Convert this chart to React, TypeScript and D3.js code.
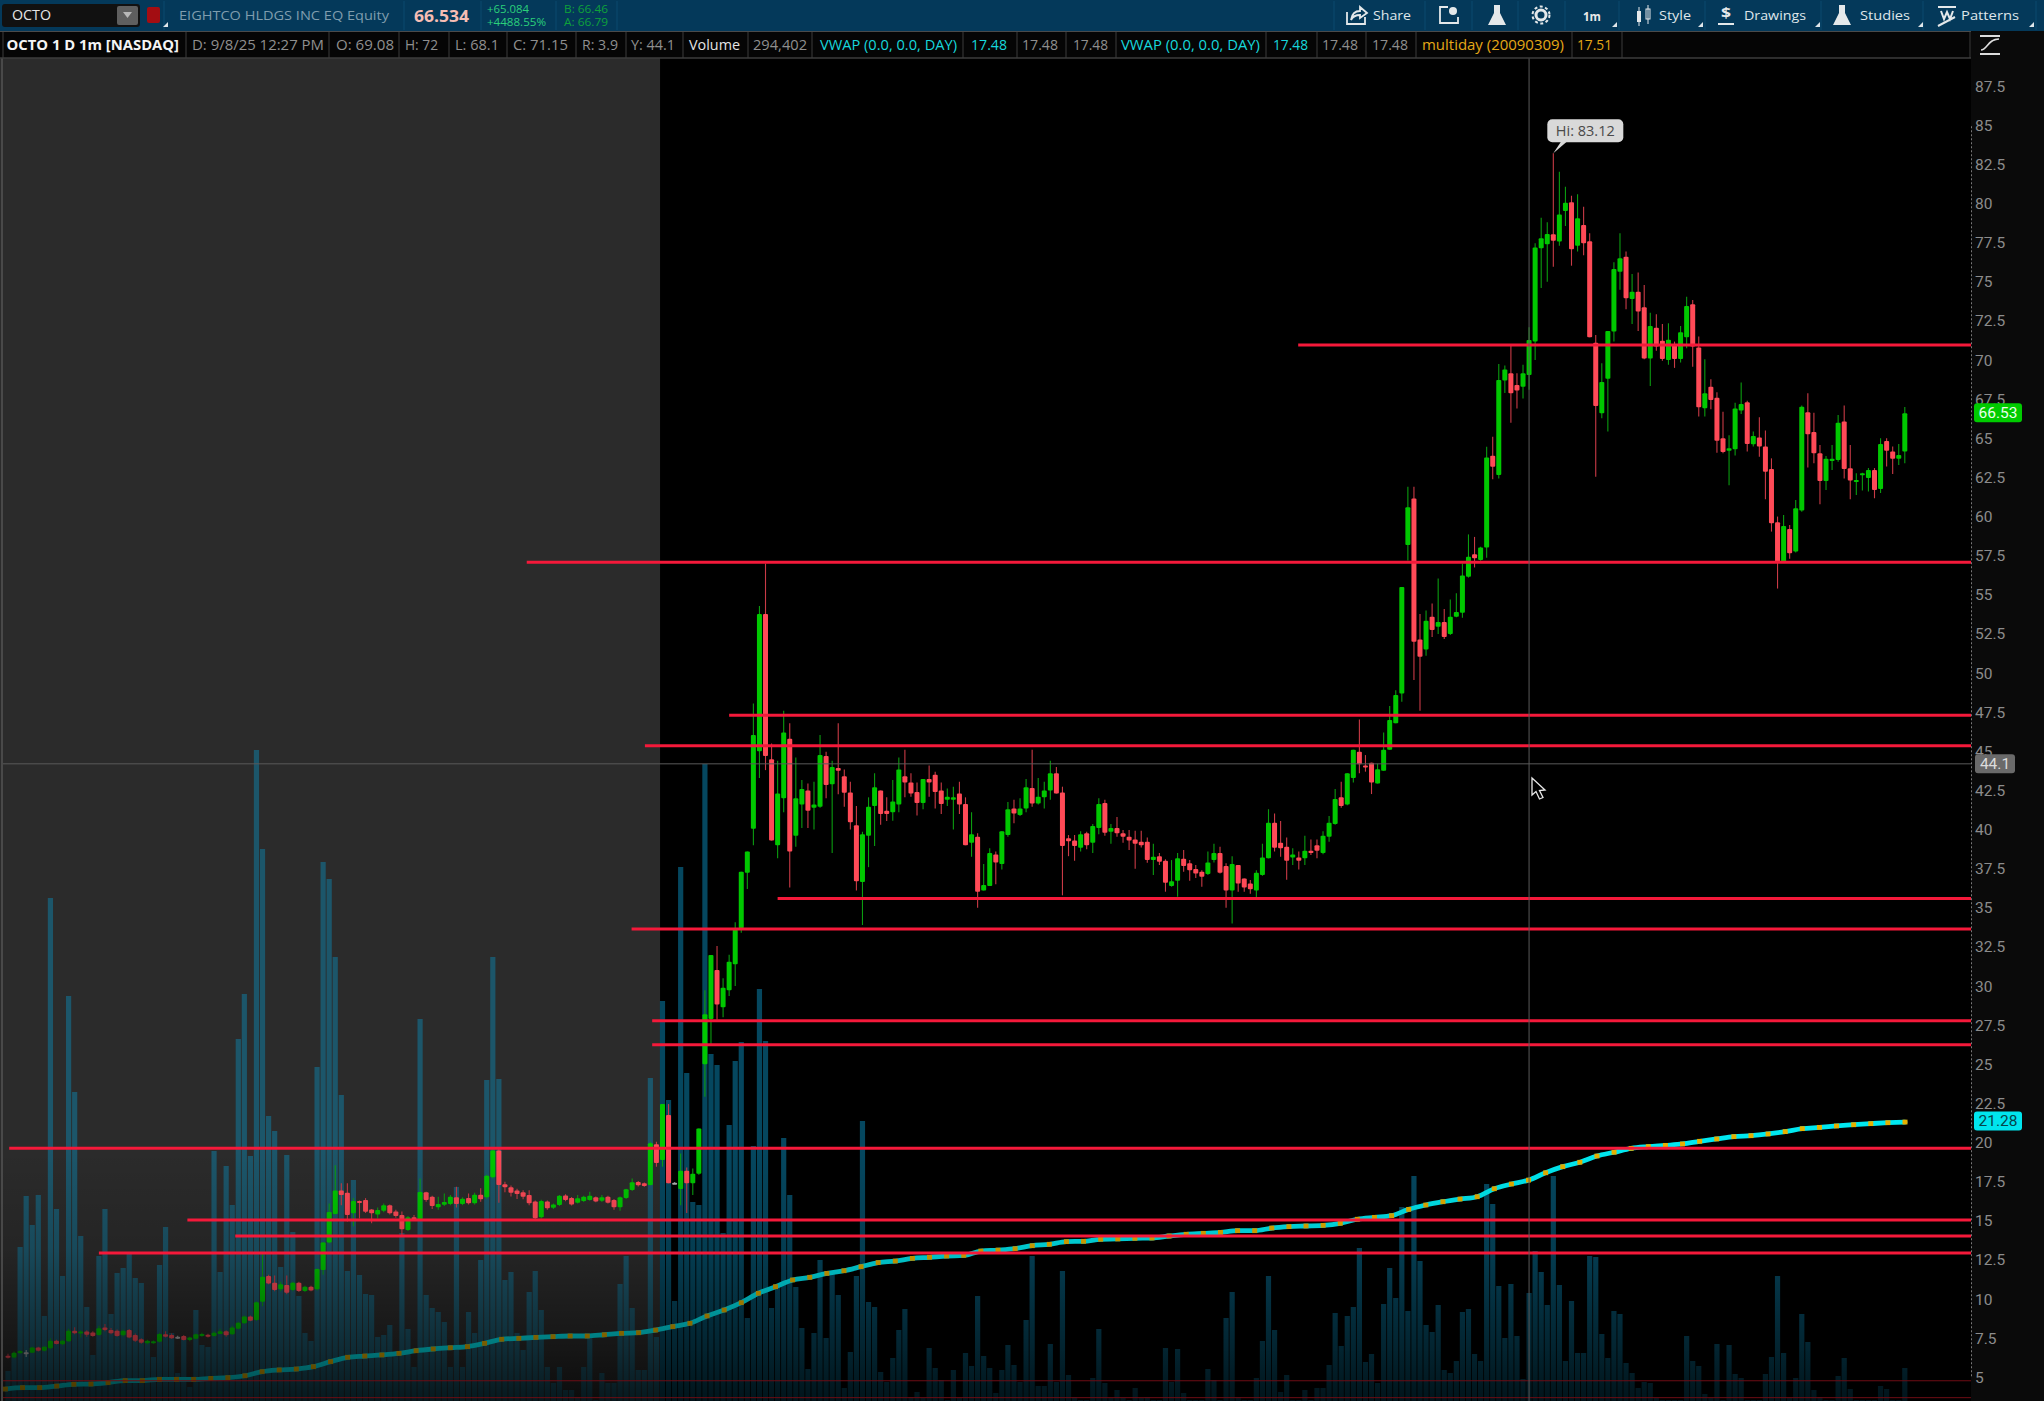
import React, { useRef, useEffect } from "react";
import * as d3 from "d3";

// [open, high, low, close] per 1m bar
const premarketBars = [
    [6.28,6.4,6.1,6.16],[6.16,6.55,6.1,6.47],[6.43,6.65,6.4,6.58],[6.5,6.65,6.2,6.5],[6.47,6.85,6.45,6.8],[6.8,6.85,6.55,6.6],[6.6,6.9,6.55,6.86],[6.75,7.4,6.7,7.24],[7.24,7.3,7,7.03],[7.01,7.3,6.95,7.24],
    [7.2,8,7.15,7.88],[7.88,8.1,7.65,7.71],[7.71,7.9,7.45,7.82],[7.82,7.9,7.5,7.62],[7.77,7.85,7.5,7.54],[7.6,8.2,7.55,8.03],[8.09,8.3,7.85,7.92],[7.92,8.05,7.65,7.71],[7.88,7.95,7.5,7.54],[7.58,7.95,7.5,7.88],
    [7.92,7.98,7.4,7.45],[7.6,7.7,7.15,7.24],[7.33,7.4,7.05,7.11],[7.07,7.3,7,7.24],[7.11,7.25,7.05,7.2],[7.18,7.75,7.12,7.67],[7.65,7.85,7.45,7.5],[7.6,7.7,7.35,7.39],[7.5,7.55,7.35,7.5],[7.54,7.6,7.25,7.28],
    [7.28,7.5,7.2,7.45],[7.37,7.7,7.33,7.65],[7.54,7.75,7.5,7.67],[7.62,7.68,7.45,7.5],[7.54,7.85,7.5,7.75],[7.67,8,7.65,7.84],[7.84,7.9,7.5,7.58],[7.65,8.2,7.6,8.09],[8,8.45,7.95,8.39],[8.35,8.85,8.3,8.78],
    [8.78,8.85,8.48,8.52],[8.56,9.75,8.5,9.69],[9.73,12.78,9.45,11.33],[11.37,11.45,10.85,10.9],[10.95,11.4,10.4,10.48],[10.52,11,10.4,10.84],[10.8,11.4,10.2,10.31],[10.48,11,10.4,10.95],[10.95,11,10.35,10.41],[10.41,10.75,10.35,10.69],
    [10.69,10.75,10.4,10.44],[10.52,11.85,10.45,11.82],[11.76,13.55,11.45,13.52],[13.52,16,13.45,15.46],[15.33,18.45,15.3,16.83],[16.83,17.3,15.9,16.55],[16.7,17.3,14.85,15.27],[15.38,16.35,14.55,16.17],[16.17,16.2,15.05,16.08],[16.23,16.35,15.4,15.48],
    [15.63,15.65,14.75,15.38],[15.31,15.75,15.05,15.59],[15.55,16,15.45,15.89],[15.89,15.95,15.3,15.38],[15.5,15.6,15.1,15.2],[15.27,15.5,14,14.36],[14.31,15.2,14.25,15.12],[15.12,15.27,14.9,15],[15,17.6,14.95,16.74],[16.72,16.75,16.12,16.23],
    [16.44,16.5,15.65,15.85],[15.76,16.44,15.6,15.97],[15.93,16.65,15.85,16.1],[15.97,16.55,15.9,16.44],[16.4,17.08,15.75,15.97],[15.97,16.4,15.9,16.31],[16.36,16.65,15.95,16.02],[16.02,16.7,15.95,16.57],[16.57,16.98,16.12,16.27],[16.4,17.85,16.3,17.78],
    [17.68,19.53,17.6,19.4],[19.4,19.53,16.06,17.19],[17.23,17.4,16.72,17.04],[17.04,17.15,16.45,16.7],[16.83,16.95,16.3,16.61],[16.72,16.85,16.27,16.44],[16.55,16.86,15.9,16.02],[16.14,16.2,15,15.06],[15.12,16.25,15.05,16.17],[16.14,16.2,15.6,15.7],
    [15.74,16,15.65,15.95],[15.91,16.55,15.85,16.5],[16.52,16.6,16.15,16.23],[16.36,16.42,15.88,15.95],[16.06,16.55,16,16.34],[16.17,16.5,16.1,16.44],[16.23,16.75,16.18,16.5],[16.4,16.46,16.08,16.14],[16.19,16.55,16.1,16.4],[16.44,16.5,16,16.06],
    [16.23,16.3,15.6,15.76],[15.76,16.45,15.55,16.4],[16.36,16.95,16.3,16.91],[16.87,17.6,16.8,17.36],[17.38,17.45,17.1,17.17],[17.3,17.35,17.08,17.12],[17.19,19.95,17.15,19.85],[19.8,19.95,18.35,18.6],
];

const openingBars = [
    [18.79,22.36,18.36,22.36],[21.66,22.36,17.3,17.3],[17.33,17.36,17.3,17.33],[16.93,19.2,15.9,18.1],[18.1,18.3,15.4,17.3],[17.3,18.25,16.55,17.9],[17.9,20.8,17.85,20.8],[24.9,29.64,22.83,28.1],[27.8,31.88,26.2,31.88],[30.92,32.46,27.77,28.73],
    [28.54,30.4,27.9,29.8],[29.64,31.9,29.26,31.46],[31.3,33.97,29.9,33.5],[33.6,37.2,33.3,37.2],[37.14,38.5,36.1,38.5],[39.95,47.96,38.9,45.94],[44.9,54.18,43.2,53.67],[53.67,56.9,43.7,44.6],[44.4,45.4,39.2,39.2],[38.9,44.3,38.06,42.2],
    [41.9,47.5,41,46.1],[45.7,46.7,36.2,38.5],[39.5,44.5,38.8,41.9],[41.5,43.06,40,42.5],[42.4,42.85,40,41.1],[41.3,42.96,39.9,41.5],[41.36,45.94,41.3,44.66],[44.6,44.87,41.9,42.74],[42.8,44.3,38.4,43.9],[43.83,46.7,42.15,43.66],
    [43.3,43.74,41.36,42.25],[42.27,42.96,39.9,40.36],[40.17,41.4,36,36.6],[36.55,39.76,33.8,39.6],[39.5,41.96,37.5,41.36],[41.4,43.5,38.85,42.6],[42.4,42.4,40.2,40.9],[41.1,41.96,40.44,40.9],[41,43.06,40.46,41.7],[41.5,44.5,41,43.74],
    [43.3,45,41.96,42.9],[42.9,43.5,42,42.2],[42.3,42.9,40.8,41.6],[41.6,43.13,41.2,43.13],[43.13,44,42,42.9],[43.4,43.6,41.25,42.3],[42.4,42.9,40.9,41.53],[41.8,42.53,41.4,42],[41.8,42.64,39.9,41.96],[42.2,42.96,40.9,41.5],
    [41.53,41.96,38.9,38.9],[39.06,41,38.16,39.6],[39.44,39.66,34.9,35.93],
];

const middayBars = [
    [36,37.7,36,36.35],[36.3,38.7,36.3,38.4],[38.3,38.5,36.4,37.8],[37.7,39.8,37.35,39.8],[39.55,41.66,39.44,41.2],[41.25,41.8,40.3,40.93],[40.83,41.9,40.76,41.25],[41.25,43.13,41,42.6],[42.55,45,41.36,41.57],[41.57,43.2,41.5,42],
    [41.96,42.96,41.25,42.4],[42.4,44.3,41.8,43.5],[43.5,43.9,42.2,42.2],[42.27,42.64,35.7,38.85],[39.34,39.55,38.2,39.16],[39.2,39.55,37.9,38.85],[38.74,39.8,38.5,39.6],[39.66,39.76,38.65,38.9],[39.06,40.25,38.4,40.12],[40,41.9,39.6,41.53],
    [41.6,41.8,39.5,39.7],[39.76,40.25,39,40],[40,40.7,39.44,39.66],[39.66,39.87,39.06,39.44],[39.44,39.87,38.6,39.2],[39.27,39.83,37.4,39],[39.12,39.83,38.76,38.9],[39.12,39.4,37.78,37.95],[37.95,39,37,38.16],[38.2,38.4,37.63,37.84],
    [37.9,38,35.93,36.5],[36.3,37.95,36.25,36.6],[36.63,38.4,35.6,38.06],[38.04,38.6,37.2,37.57],[37.74,37.95,36.63,37.3],[37.38,37.63,36.8,37.1],[37.2,37.3,36.25,36.88],[37.06,38.5,37,37.8],[37.95,39,37.8,38.4],[38.4,38.8,37.1,37.14],
    [37.57,37.74,34.9,36],[36,38.2,33.9,37.7],[37.63,37.63,35.93,36.46],[36.78,36.78,35.93,36.2],[36.46,36.67,35.8,36.08],[36,37.3,35.56,37.14],[37,39,36.95,38.12],[38.06,41.2,38.06,40.34],[40.34,40.93,38.5,38.74],[39.06,40.44,38.16,38.7],
    [38.8,39.4,36.7,37.9],[38.12,38.7,37.63,38.3],[38.12,38.5,37.35,37.9],[38.06,39.5,37.63,38.55],[38.55,39.27,38.27,38.4],[38.9,39.27,38.06,38.55],[38.4,39.8,38.33,39.5],[39.44,40.76,39.12,40.34],[40.25,42.5,40.2,41.85],[41.96,42.96,41.3,41.4],
    [41.5,43.5,41.46,43.5],[43.2,45,42.9,45],[44.87,46.94,43.5,44.08],[44,44.66,43.6,43.96],[44.17,44.17,42.17,42.9],[42.85,44.1,42.85,43.75],[43.66,46.1,43.66,45],[45,47.8,45,46.9],[46.7,48.8,46.7,48.5],[48.6,55.4,48.07,55.4],
];

const afternoonBars = [
    [58.08,61.8,57.1,60.5],[61.06,61.8,49.45,51.9],[52.05,53.67,47.5,50.95],[51.4,53.9,51,53.24],[53.5,54.35,52.2,52.65],[52.86,55.95,52.4,53.16],[53.16,54,52.07,52.2],[52.4,54.6,52.33,53.5],[53.5,55,53.46,53.8],[53.76,56.9,53.44,56.14],
    [56.06,58.76,56,57.33],[57.5,58.6,56.65,57.23],[57.12,57.97,57.08,57.93],[57.93,64.36,57.27,63.68],[63.79,65,62.28,63.09],[62.56,69.65,62.34,68.63],[68.6,69.55,67.8,69.3],[69.05,70.86,65.9,67.78],[68.3,69.05,66.8,67.95],[68.2,69.6,67.45,69.05],
    [68.95,72,68,71.18],[71.08,77.36,69.9,77.1],[77.04,79,74.5,77.68],[77.3,78.7,74.9,77.96],[77.94,83.12,75.87,77.53],[77.47,81.94,77.2,79.2],[79.43,80.98,78.47,79.96],[79.98,80.4,75.93,76.98],[77.2,80.5,76.83,78.96],[78.53,79.7,76.6,77.36],
    [77.5,78,71.35,71.35],[71,71.5,62.45,66.97],[66.5,69.7,66.18,68.5],[68.7,71.76,65.33,71.76],[71.72,76.15,71.08,75.72],[75.55,78,74.4,76.4],[76.5,76.83,73.14,73.85],[73.8,75.4,72.2,74.27],[74.27,75.5,71.76,73],[73.27,74.7,69.95,70],
    [70,72.93,68.24,72.08],[71.97,72.82,70.5,70.76],[71.14,72.2,69.86,69.97],[69.9,72.25,69.6,71.2],[70.9,71.08,69.4,69.97],[69.97,72.08,69.74,71.67],[71.35,73.95,70.65,73.36],[73.46,73.74,69.48,70.76],[70.7,71.4,66.3,66.88],[66.82,69.95,66.3,67.78],
    [68.2,68.67,66.75,67.35],[67.5,67.84,63.98,64.75],[64.9,66.6,63.94,64.03],[64.1,65.1,61.9,64.26],[64.2,67.18,63.8,66.8],[66.67,68.46,66.45,67.1],[67.2,67.3,64.05,64.54],[64.52,65.33,64.37,65.05],[64.96,66.24,63.73,64.37],[64.37,65.4,61,62.77],
    [62.94,63.62,58.94,59.47],[59.53,59.9,55.3,56.98],[57,60,56.98,59.3],[59.1,59.36,57.2,57.55],[57.66,60.96,57.6,60.43],[60.28,67,60.2,66.92],[66.56,67.78,63.03,65.16],[65.3,66.54,63.3,63.94],[63.94,64.47,60.68,62.17],[62.17,63.77,61.6,63.6],
    [63.45,64.47,62.88,63.6],[63.52,66.39,63.4,65.9],[65.97,67,62.34,62.94],[62.98,64.47,61,62.2],[62.11,62.66,61.28,62.24],[62.54,62.7,61.56,62.66],[62.37,63,61.5,62.88],[62.88,63,61.07,61.6],[61.66,64.9,61.4,64.54],[64.73,64.9,63.1,64.1],
    [64.05,64.37,62.62,63.6],[63.6,64.54,63.2,63.84],[64.05,66.9,63.3,66.5],
];

// volume has no scale on the chart, so these are relative heights per bar
const volumes = [
    30,44,154,205,176,206,85,503,192,125,405,309,165,94,46,145,192,87,128,133,
    147,123,118,60,44,136,174,68,28,64,14,91,56,54,250,129,235,196,362,407,
    245,651,552,285,270,134,246,169,105,68,60,334,539,522,444,306,130,221,126,107,
    106,64,66,76,48,168,72,34,382,106,93,89,79,34,214,34,89,68,141,321,
    444,322,121,129,68,51,109,130,91,34,18,34,11,11,4,34,64,1,28,18,
    18,117,145,93,31,31,323,64,400,301,100,534,328,199,196,637,347,336,168,276,
    340,359,83,255,412,360,93,116,263,206,114,73,32,68,141,63,128,106,13,49,
    125,280,99,94,29,19,43,71,92,4,9,3,53,33,21,1,31,3,48,35,
    105,45,33,8,31,56,36,19,81,145,15,15,57,19,130,26,4,1,1,23,
    72,18,3,11,3,1,13,3,4,1,1,53,19,52,8,1,1,1,32,21,
    1,83,109,4,1,1,23,60,125,71,9,26,1,1,11,1,13,13,36,88,
    55,85,94,153,39,47,18,97,133,103,194,90,225,140,76,69,96,31,28,40,
    89,92,47,40,217,197,115,63,117,65,22,108,150,129,96,225,116,40,100,48,
    48,145,144,67,43,90,87,38,28,13,19,18,3,1,1,1,1,65,40,35,
    7,3,57,1,56,27,23,1,1,1,27,44,125,48,3,23,87,59,11,4,
    1,1,25,43,12,1,1,1,1,15,12,1,1,33,
];

const vwapValues = [
    4.15,4.24,4.24,4.34,4.45,4.47,4.56,4.69,4.69,4.77,4.77,4.77,4.83,4.88,5,5.26,5.37,5.43,5.58,5.9,
    6.18,6.26,6.33,6.43,6.6,6.71,6.79,6.86,7.07,7.33,7.39,7.45,7.5,7.54,7.54,7.62,7.71,7.75,7.92,
    8.14,8.35,8.82,9.2,9.67,10.27,10.69,11.12,11.29,11.54,11.71,11.97,12.23,12.33,12.5,12.57,12.65,12.69,12.97,13.03,
    13.12,13.31,13.4,13.57,13.59,13.72,13.74,13.78,13.8,13.93,14.04,14.1,14.16,14.27,14.27,14.44,14.53,14.57,14.61,14.74,15,
    15.12,15.23,15.63,15.91,16.12,16.29,16.44,16.95,17.25,17.5,17.97,18.36,18.64,19.04,19.28,19.53,19.64,19.72,19.81,19.98,
    20.13,20.28,20.34,20.45,20.6,20.79,20.87,20.96,21.04,21.11,21.17,21.21,
];

const priceTicks = d3.range(5, 90, 2.5);
const levelPrices = [70.86, 56.98, 47.2, 45.26, 35.5, 33.55, 27.69, 26.15, 19.53, 14.95, 13.93, 12.84];
const levelStartBars = [212.9, 85.6, 119, 105.1, 127, 102.9, 106.3, 106.3, 0.2, 29.6, 37.5, 15];
const thinLevels = [4.68, 3.6];

const crosshairBar = 251;
const crosshairPrice = 44.1;
const highBar = 255;
const highPrice = 83.12;
const lastPrice = 66.53;
const lastVwap = 21.28;
const premarketEnd = 107.6;
const vwapFirstBar = -0.43;
const vwapBarStep = 2.824;

const App = () => {
    const svgRef = useRef(null);

    useEffect(() => {
        const width = 2044;
        const height = 1401;
        const plotRight = 1971;

        const bars = [...premarketBars, ...openingBars, ...middayBars, ...afternoonBars];

        const x = d3.scaleLinear().domain([0, 313]).range([8, 1904.8]);
        const y = d3.scaleLinear().domain([5, 85]).range([1375.75, 123.75]);
        const v = d3.scaleLinear().domain([0, 651]).range([1401, 750]);

        const svg = d3.select(svgRef.current);
        svg.selectAll("*").remove();

        const defs = svg.append("defs");
        const fade = defs.append("linearGradient").attr("id", "bottomFade").attr("x1", 0).attr("x2", 0).attr("y1", 0).attr("y2", 1);
        [[0, 0], [0.4, 0.15], [0.8, 0.5], [1, 0.72]].forEach(([o, a]) => {
            fade.append("stop").attr("offset", o).attr("stop-color", "#000").attr("stop-opacity", a);
        });

        svg.append("rect").attr("width", width).attr("height", height).attr("fill", "#000");
        svg.append("rect").attr("x", plotRight).attr("y", 30).attr("width", width - plotRight).attr("height", height).attr("fill", "#0a0a0a");

        // premarket shading
        svg.append("rect")
            .attr("x", 0)
            .attr("y", 58)
            .attr("width", x(premarketEnd))
            .attr("height", height - 58)
            .attr("fill", "#2b2b2b");

        // volume
        svg.append("g")
            .selectAll("rect")
            .data(volumes)
            .enter()
            .append("rect")
            .attr("x", (d: any, i: number) => x(i) - 2.6)
            .attr("y", (d: any) => v(d))
            .attr("width", 5.2)
            .attr("height", (d: any) => height - v(d))
            .attr("fill", (d: any, i: number) => (i < 108 ? "#1c566a" : "#05475f"));

        // candles
        const candle = svg.append("g")
            .selectAll("g")
            .data(bars)
            .enter()
            .append("g")
            .attr("transform", (d: any, i: number) => `translate(${x(i)},0)`);

        const candleColor = (d: any, up: string, down: string) => (d[3] > d[0] ? up : d[3] < d[0] ? down : "#b0b0b0");

        candle.append("line")
            .attr("y1", (d: any) => y(d[1]))
            .attr("y2", (d: any) => y(d[2]))
            .attr("stroke", (d: any) => candleColor(d, "#0b9c10", "#c93a46"))
            .attr("stroke-width", 1.1);

        candle.append("rect")
            .attr("x", -2.5)
            .attr("y", (d: any) => y(Math.max(d[0], d[3])))
            .attr("width", 5)
            .attr("height", (d: any) => Math.max(2, Math.abs(y(d[0]) - y(d[3]))))
            .attr("rx", 1)
            .attr("fill", (d: any) => candleColor(d, "#00c800", "#ff4a57"));

        // vwap with the multiday vwap dotted on top
        const vwapX = (i: number) => x(vwapFirstBar + i * vwapBarStep);
        const vwapLine = d3.line<number>()
            .x((d, i) => vwapX(i))
            .y((d) => y(d))
            .curve(d3.curveMonotoneX);

        svg.append("path")
            .attr("d", vwapLine(vwapValues))
            .attr("fill", "none")
            .attr("stroke", "#00e8f0")
            .attr("stroke-width", 4.8)
            .attr("stroke-linecap", "round");

        svg.append("g")
            .selectAll("rect")
            .data(vwapValues)
            .enter()
            .append("rect")
            .attr("x", (d: any, i: number) => vwapX(i) - 2.5)
            .attr("y", (d: any) => y(d) - 2.4)
            .attr("width", 5)
            .attr("height", 4.8)
            .attr("fill", "#e6b000");

        // the whole plot fades to black near the bottom
        svg.append("rect")
            .attr("x", 0)
            .attr("y", 1150)
            .attr("width", plotRight)
            .attr("height", height - 1150)
            .attr("fill", "url(#bottomFade)");

        // hand drawn levels
        svg.append("g")
            .selectAll("line")
            .data(levelPrices)
            .enter()
            .append("line")
            .attr("x1", (d: any, i: number) => x(levelStartBars[i]))
            .attr("x2", plotRight)
            .attr("y1", (d: any) => y(d))
            .attr("y2", (d: any) => y(d))
            .attr("stroke", "#f5193a")
            .attr("stroke-width", 3);

        svg.append("g")
            .selectAll("line")
            .data(thinLevels)
            .enter()
            .append("line")
            .attr("x1", 3)
            .attr("x2", plotRight)
            .attr("y1", (d: any) => y(d))
            .attr("y2", (d: any) => y(d))
            .attr("stroke", "#6e0c14")
            .attr("stroke-width", 1);

        // crosshair
        svg.append("line").attr("x1", x(crosshairBar)).attr("x2", x(crosshairBar)).attr("y1", 58).attr("y2", height).attr("stroke", "#5a5a5a").attr("stroke-width", 1);
        svg.append("line").attr("x1", 3).attr("x2", plotRight).attr("y1", y(crosshairPrice)).attr("y2", y(crosshairPrice)).attr("stroke", "#5a5a5a").attr("stroke-width", 1);
        svg.append("line").attr("x1", 2).attr("x2", 2).attr("y1", 58).attr("y2", height).attr("stroke", "#555").attr("stroke-width", 1.5);

        // price axis
        const axis = d3.axisRight(y).tickValues(priceTicks).tickSize(0).tickPadding(4).tickFormat((d: any) => String(d));
        const axisG = svg.append("g").attr("transform", `translate(${plotRight},0)`).call(axis);
        axisG.select(".domain").attr("stroke", "#777").attr("stroke-dasharray", "2 2");
        axisG.selectAll("text")
            .attr("fill", "#8c8c8c")
            .attr("font-family", "Roboto")
            .attr("font-size", 15.5)
            .attr("dy", "0.42em");

        const label = (g: any, text: string, px: number, py: number, w: number, color: string, size = 14.5, weight = 400) =>
            g.append("text")
                .attr("x", px)
                .attr("y", py + size * 0.36)
                .attr("textLength", w)
                .attr("lengthAdjust", "spacingAndGlyphs")
                .attr("font-family", "'Open Sans'")
                .attr("font-size", size)
                .attr("font-weight", weight)
                .attr("fill", color)
                .text(text);

        // axis bubbles
        const bubble = (price: number, text: string, bg: string, fg: string, left: number, w: number) => {
            svg.append("rect").attr("x", left).attr("y", y(price) - 9.5).attr("width", w).attr("height", 19).attr("rx", 3).attr("fill", bg);
            svg.append("text")
                .attr("x", left + w / 2)
                .attr("y", y(price) + 5.5)
                .attr("text-anchor", "middle")
                .attr("font-family", "Roboto")
                .attr("font-size", 15.5)
                .attr("fill", fg)
                .text(text);
        };
        bubble(lastPrice, "66.53", "#00cc00", "#e8ffe8", 1974, 48);
        bubble(lastVwap, "21.28", "#00e5ee", "#06444a", 1974, 48);
        bubble(crosshairPrice, "44.1", "#6a6a6a", "#dcdcdc", 1975, 40);

        // high bubble
        const hx = x(highBar);
        const hy = y(highPrice);
        svg.append("path").attr("d", `M${hx},${hy} L${hx + 8},${hy - 12} L${hx + 14},${hy - 12} Z`).attr("fill", "#d9d9d9");
        svg.append("rect").attr("x", hx - 6).attr("y", hy - 34).attr("width", 76).attr("height", 23).attr("rx", 5).attr("fill", "#d9d9d9");
        svg.append("text")
            .attr("x", hx + 32)
            .attr("y", hy - 17)
            .attr("text-anchor", "middle")
            .attr("font-family", "'Open Sans'")
            .attr("font-size", 14.5)
            .attr("fill", "#4a4a4a")
            .text(`Hi: ${highPrice}`);

        // mouse pointer
        svg.append("path")
            .attr("transform", "translate(1532,778)")
            .attr("d", "M0,0 L0,17 L4,13.5 L7.5,21 L11,19.5 L7.5,12.5 L13,12 Z")
            .attr("fill", "#000")
            .attr("stroke", "#e8e8e8")
            .attr("stroke-width", 1.3);

        // toolbar
        const top = svg.append("g");
        top.append("rect").attr("width", width).attr("height", 31).attr("fill", "#04395a");
        top.append("rect").attr("x", 2).attr("y", 4).attr("width", 138).attr("height", 23).attr("rx", 3).attr("fill", "#111");
        top.append("rect").attr("x", 117).attr("y", 6).attr("width", 21).attr("height", 19).attr("rx", 2).attr("fill", "#5f5f5f");
        top.append("path").attr("d", "M123,12 L132,12 L127.5,18 Z").attr("fill", "#b8b8b8");
        top.append("rect").attr("x", 147).attr("y", 7).attr("width", 13).attr("height", 16).attr("rx", 2).attr("fill", "#a30d12");

        label(top, "OCTO", 12, 15, 39, "#e6e6e6");
        label(top, "EIGHTCO HLDGS INC EQ Equity", 179, 15, 210, "#7f9dae", 13);
        label(top, "66.534", 414, 16, 55, "#f6bdb4", 16, 700);
        label(top, "+65.084", 487, 9.5, 42, "#2bd07a", 11);
        label(top, "+4488.55%", 487, 22, 59, "#2bd07a", 11);
        label(top, "B: 66.46", 564, 9.5, 44, "#0fa13a", 11);
        label(top, "A: 66.79", 564, 22, 44, "#0fa13a", 11);
        label(top, "Share", 1373, 15, 38, "#dfe6ea", 13.5);
        label(top, "1m", 1583, 16, 18, "#e8e8e8", 13, 700);
        label(top, "Style", 1659, 15, 32, "#dfe6ea", 13.5);
        label(top, "Drawings", 1744, 15, 62, "#dfe6ea", 13.5);
        label(top, "Studies", 1860, 15, 50, "#dfe6ea", 13.5);
        label(top, "Patterns", 1961, 15, 58, "#dfe6ea", 13.5);

        [164, 404, 481, 556, 617, 1334, 1425, 1472, 1518, 1565, 1619, 1705, 1821, 1923, 2036].forEach((sx) => {
            top.append("line").attr("x1", sx).attr("x2", sx).attr("y1", 1).attr("y2", 30).attr("stroke", "#0b4a6e").attr("stroke-width", 1);
        });
        [1612, 1698, 1815, 1918, 2029].forEach((tx) => {
            top.append("path").attr("d", `M${tx},27 L${tx + 5},27 L${tx + 5},22 Z`).attr("fill", "#dfe6ea");
        });
        top.append("path").attr("d", "M163,27 L168,27 L168,22 Z").attr("fill", "#dfe6ea");

        // toolbar icons
        const icon = "#e4e8ea";
        top.append("path").attr("d", "M1347,12 L1347,24 L1365,24 L1365,17 M1351,20 C1352,13 1356,11 1360,11 L1360,7 L1367,13 L1360,18 L1360,15 C1356,15 1353,16 1351,20 Z").attr("fill", "none").attr("stroke", icon).attr("stroke-width", 1.8);
        top.append("path").attr("d", "M1448,7 L1440,7 L1440,23 L1458,23 L1458,17").attr("fill", "none").attr("stroke", icon).attr("stroke-width", 1.8);
        top.append("circle").attr("cx", 1453).attr("cy", 11).attr("r", 4).attr("fill", icon);
        const flask = (cx: number) =>
            top.append("path").attr("d", `M${cx - 3},5 L${cx + 3},5 L${cx + 3},13 L${cx + 9},25 L${cx - 9},25 L${cx - 3},13 Z`).attr("fill", icon);
        flask(1497);
        flask(1842);
        top.append("circle").attr("cx", 1541).attr("cy", 15).attr("r", 5).attr("fill", "none").attr("stroke", icon).attr("stroke-width", 3);
        top.append("circle").attr("cx", 1541).attr("cy", 15).attr("r", 8.5).attr("fill", "none").attr("stroke", icon).attr("stroke-width", 2).attr("stroke-dasharray", "3 2.5");
        top.append("rect").attr("x", 1637).attr("y", 11).attr("width", 4).attr("height", 11).attr("fill", icon);
        top.append("rect").attr("x", 1646).attr("y", 9).attr("width", 4).attr("height", 10).attr("fill", "none").attr("stroke", icon);
        top.append("line").attr("x1", 1639).attr("x2", 1639).attr("y1", 7).attr("y2", 26).attr("stroke", icon);
        top.append("line").attr("x1", 1648).attr("x2", 1648).attr("y1", 5).attr("y2", 24).attr("stroke", icon);
        label(top, "$", 1721, 13, 10, icon, 15, 700);
        top.append("rect").attr("x", 1718).attr("y", 23).attr("width", 16).attr("height", 2).attr("fill", icon);
        top.append("path").attr("d", "M1938,7 L1956,7 M1941,11 L1944,19 L1947,12 L1950,19 L1953,11 M1938,26 L1955,17").attr("fill", "none").attr("stroke", icon).attr("stroke-width", 2);

        // study values row
        const row = svg.append("g");
        row.append("rect").attr("x", 0).attr("y", 31).attr("width", 1971).attr("height", 27).attr("fill", "#050505");
        row.append("line").attr("x1", 0).attr("x2", 1971).attr("y1", 31.5).attr("y2", 31.5).attr("stroke", "#4a4a4a").attr("stroke-width", 1);
        row.append("line").attr("x1", 0).attr("x2", 1971).attr("y1", 58).attr("y2", 58).attr("stroke", "#3c3c3c").attr("stroke-width", 1.5);
        [3, 186, 329, 399, 449, 507, 576, 626, 683, 748, 812, 963, 1017, 1066, 1116, 1266, 1317, 1366, 1416, 1572, 1622, 1970].forEach((cx) => {
            row.append("line").attr("x1", cx).attr("x2", cx).attr("y1", 32).attr("y2", 58).attr("stroke", "#3c3c3c").attr("stroke-width", 1);
        });

        const grey = "#8f8f8f";
        const cyan = "#17d7dc";
        const orange = "#e6a817";
        label(row, "OCTO 1 D 1m [NASDAQ]", 6.5, 44.5, 172.5, "#f4f4f4", 14, 700);
        label(row, "D: 9/8/25 12:27 PM", 192, 44.5, 132, grey);
        label(row, "O: 69.08", 336, 44.5, 58, grey);
        label(row, "H: 72", 405, 44.5, 33, grey);
        label(row, "L: 68.1", 455, 44.5, 44, grey);
        label(row, "C: 71.15", 513, 44.5, 55, grey);
        label(row, "R: 3.9", 582, 44.5, 36, grey);
        label(row, "Y: 44.1", 631, 44.5, 44, grey);
        label(row, "Volume", 689, 44.5, 51, "#e4e4e4");
        label(row, "294,402", 753, 44.5, 54, grey);
        label(row, "VWAP (0.0, 0.0, DAY)", 820, 44.5, 137, cyan);
        label(row, "17.48", 971, 44.5, 36, cyan);
        label(row, "17.48", 1022, 44.5, 36, grey);
        label(row, "17.48", 1073, 44.5, 35, grey);
        label(row, "VWAP (0.0, 0.0, DAY)", 1121, 44.5, 139, cyan);
        label(row, "17.48", 1273, 44.5, 35, cyan);
        label(row, "17.48", 1322, 44.5, 36, grey);
        label(row, "17.48", 1372, 44.5, 36, grey);
        label(row, "multiday (20090309)", 1422, 44.5, 142, orange);
        label(row, "17.51", 1577, 44.5, 35, orange);

        // chart settings icon above the axis
        row.append("rect").attr("x", 1980).attr("y", 35).attr("width", 20).attr("height", 2).attr("fill", "#dcdcdc");
        row.append("rect").attr("x", 1980).attr("y", 53).attr("width", 20).attr("height", 2).attr("fill", "#dcdcdc");
        row.append("path").attr("d", "M1981,50 C1987,50 1988,39 1999,39").attr("fill", "none").attr("stroke", "#dcdcdc").attr("stroke-width", 1.6);
    }, []);

    return (
        <svg
            ref={svgRef}
            width={2044}
            height={1401}
            style={{ position: "absolute", left: 0, top: 0, display: "block" }}
        ></svg>
    );
};

export default App;
